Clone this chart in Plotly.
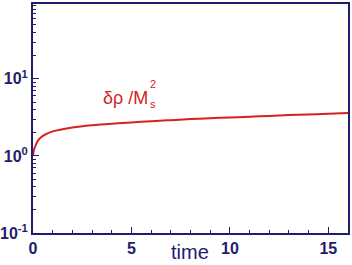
import plotly.graph_objects as go

time = [0, 0.05, 0.1, 0.25, 0.5, 1, 1.5, 2, 3, 4, 5, 6, 7, 8, 9, 10, 11, 12, 13, 14, 15, 16]
delta_rho = [1.0, 1.2, 1.3, 1.58, 1.82, 2.08, 2.22, 2.34, 2.5, 2.62, 2.72, 2.82, 2.91, 3.0, 3.08, 3.15, 3.22, 3.3, 3.38, 3.45, 3.52, 3.6]

x_ticks = [0, 5, 10, 15]
y_ticks = [0.1, 1, 10]
y_ticktext = ["<b>10<sup>-1</sup></b>", "<b>10<sup>0</sup></b>", "<b>10<sup>1</sup></b>"]
y_minor = [m * 10 ** e for e in (-1, 0, 1) for m in range(2, 10)]

NAVY = "#1e1e6a"
RED = "#d42222"

fig = go.Figure()
fig.add_trace(go.Scatter(x=time, y=delta_rho, mode="lines", line=dict(color=RED, width=2), line_shape="spline"))

fig.update_layout(
    width=352, height=265, margin=dict(l=33, r=4, t=4, b=32),
    paper_bgcolor="white", plot_bgcolor="white", showlegend=False,
    font=dict(family="Liberation Sans, Arial", color=NAVY, size=16),
)
fig.update_xaxes(
    range=[0, 16], tickvals=x_ticks, ticktext=[f"<b>{v}</b>" for v in x_ticks],
    ticks="inside", ticklen=6, tickwidth=1, tickcolor=NAVY, automargin=False,
    minor=dict(ticks="inside", ticklen=3, dtick=1, tickcolor=NAVY),
    showline=True, linecolor=NAVY, linewidth=2, mirror=True, showgrid=False, zeroline=False,
    tickfont=dict(size=16, color=NAVY),
)
fig.update_yaxes(
    type="log", range=[-1, 1.97], tickvals=y_ticks, ticktext=y_ticktext,
    ticks="inside", ticklen=6, tickwidth=1, tickcolor=NAVY, automargin=False,
    minor=dict(ticks="inside", ticklen=3, tickvals=y_minor, tickcolor=NAVY),
    showline=True, linecolor=NAVY, linewidth=2, mirror=True, showgrid=False, zeroline=False,
    tickfont=dict(size=16, color=NAVY),
)
fig.add_annotation(xref="paper", yref="paper", x=0.498, y=-0.085, yanchor="middle",
                   text="time", showarrow=False, font=dict(size=20, color=NAVY))
fig.add_annotation(xref="x", yref="paper", x=3.45, y=0.59, xanchor="left", yanchor="middle",
                   text="δρ /M", showarrow=False, font=dict(size=18, color=RED))
fig.add_annotation(xref="x", yref="paper", x=5.85, y=0.65, xanchor="left", yanchor="middle",
                   text="2", showarrow=False, font=dict(size=11, color=RED))
fig.add_annotation(xref="x", yref="paper", x=5.85, y=0.565, xanchor="left", yanchor="middle",
                   text="s", showarrow=False, font=dict(size=11, color=RED))

fig.write_html("out.html")
